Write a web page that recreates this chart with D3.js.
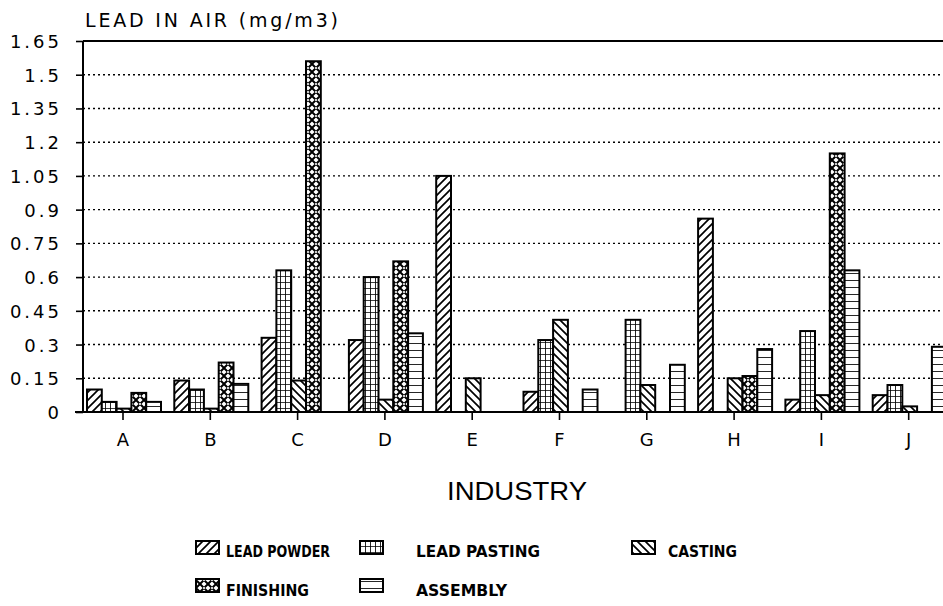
<!DOCTYPE html>
<html>
<head>
<meta charset="utf-8">
<script src="https://cdn.jsdelivr.net/npm/d3@7"></script>
<style>
  html, body { margin: 0; padding: 0; background: #fff; }
  svg { display: block; }
</style>
</head>
<body>
<svg id="chart" width="943" height="606"></svg>
<script>
// ---- data ----
const categories = ["A", "B", "C", "D", "E", "F", "G", "H", "I", "J"];
const seriesNames = ["LEAD POWDER", "LEAD PASTING", "CASTING", "FINISHING", "ASSEMBLY"];
const leadPowder  = [0.10, 0.14, 0.33, 0.32, 1.05, 0.09, 0,    0.86, 0.055, 0.075];
const leadPasting = [0.045, 0.10, 0.63, 0.60, 0,   0.32, 0.41, 0,    0.36,  0.12];
const casting     = [0.015, 0.015, 0.14, 0.055, 0.15, 0.41, 0.12, 0.15, 0.075, 0.025];
const finishing   = [0.085, 0.22, 1.56, 0.67, 0,   0,    0,    0.16, 1.15,  0];
const assembly    = [0.045, 0.125, 0,   0.35, 0,   0.10, 0.21, 0.28, 0.63,  0.29];
const yTicks = [0, 0.15, 0.3, 0.45, 0.6, 0.75, 0.9, 1.05, 1.2, 1.35, 1.5, 1.65];
const yTickLabels = ["0", "0.15", "0.3", "0.45", "0.6", "0.75", "0.9", "1.05", "1.2", "1.35", "1.5", "1.65"];
const yTitle = "LEAD IN AIR (mg/m3)";
const xTitle = "INDUSTRY";

const seriesValues = [leadPowder, leadPasting, casting, finishing, assembly];
const patternIds = ["pPowder", "pPasting", "pCasting", "pFinishing", "pAssembly"];

// ---- layout ----
const W = 943, H = 606;
const axisX = 83, plotRight = 943;
const yTop = 41, yBase = 412;
const step = 87.3, firstCenter = 123;

const svg = d3.select("#chart");
const defs = svg.append("defs");

function pat(id, w, h, draw) {
  const p = defs.append("pattern").attr("id", id)
    .attr("patternUnits", "userSpaceOnUse").attr("width", w).attr("height", h);
  p.append("rect").attr("width", w).attr("height", h).attr("fill", "#fff");
  draw(p);
}
pat("pPowder", 8, 8, p => p.append("path")
  .attr("d", "M-2,2 L2,-2 M0,8 L8,0 M6,10 L10,6")
  .attr("stroke", "#000").attr("stroke-width", 1.7));
pat("pCasting", 8, 8, p => p.append("path")
  .attr("d", "M-2,6 L2,10 M0,0 L8,8 M6,-2 L10,2")
  .attr("stroke", "#000").attr("stroke-width", 1.7));
pat("pPasting", 5, 6, p => p.append("path")
  .attr("d", "M0,0 L0,6 M0,0 L5,0")
  .attr("stroke", "#000").attr("stroke-width", 1.7));
pat("pFinishing", 8, 8, p => {
  p.append("path").attr("d", "M0,0 L8,8 M8,0 L0,8")
    .attr("stroke", "#000").attr("stroke-width", 2);
  p.append("circle").attr("cx", 4).attr("cy", 4).attr("r", 1.1).attr("fill", "#fff");
});
pat("pAssembly", 10, 7, p => p.append("path")
  .attr("d", "M0,0 L10,0")
  .attr("stroke", "#000").attr("stroke-width", 1.7));

// ---- scales ----
const x = d3.scaleBand()
  .domain(categories)
  .range([firstCenter - step / 2, firstCenter - step / 2 + step * categories.length])
  .padding(0);
const groupW = 74;
const xs = d3.scaleBand().domain(seriesNames).range([0, groupW]).padding(0);
const y = d3.scaleLinear().domain([0, 1.65]).range([yBase, yTop]);

const font = "'DejaVu Sans', sans-serif";

// ---- gridlines ----
svg.append("g").selectAll("line")
  .data(yTicks.filter(v => v > 0 && v < 1.65))
  .join("line")
  .attr("x1", axisX).attr("x2", plotRight)
  .attr("y1", d => y(d)).attr("y2", d => y(d))
  .attr("stroke", "#000").attr("stroke-width", 1.4)
  .attr("stroke-dasharray", "2,3");
// top border
svg.append("line").attr("x1", axisX).attr("x2", plotRight)
  .attr("y1", y(1.65)).attr("y2", y(1.65))
  .attr("stroke", "#000").attr("stroke-width", 1.8);

// ---- bars ----
const barData = [];
categories.forEach((c, i) => {
  seriesNames.forEach((s, j) => {
    const v = seriesValues[j][i];
    if (v > 0) barData.push({ c, s, j, v });
  });
});
const barsG = svg.append("g");
barsG.selectAll("rect")
  .data(barData)
  .join("rect")
  .attr("x", d => x(d.c) + x.bandwidth() / 2 - groupW / 2 + 1 + xs(d.s))
  .attr("width", xs.bandwidth())
  .attr("y", d => y(d.v))
  .attr("height", d => y(0) - y(d.v))
  .attr("fill", d => "url(#" + patternIds[d.j] + ")")
  .attr("stroke", "#000").attr("stroke-width", 2);

// ---- axes ----
const yAxis = d3.axisLeft(y).tickValues(yTicks)
  .tickFormat((d, i) => yTickLabels[i]).tickSize(7).tickPadding(14);
const gy = svg.append("g").attr("transform", `translate(${axisX},0)`).call(yAxis);
gy.select(".domain").attr("stroke", "#000").attr("stroke-width", 2)
  .attr("d", `M0,${yTop}V${yBase}`);
gy.selectAll(".tick line").attr("stroke-width", 1.6);
gy.selectAll(".tick text")
  .attr("font-family", font).attr("font-size", 18).attr("fill", "#000")
  .attr("letter-spacing", "3px").attr("dy", "0.36em");

const xAxis = d3.axisBottom(x).tickSize(8).tickPadding(13);
const gx = svg.append("g").attr("transform", `translate(0,${yBase})`).call(xAxis);
gx.select(".domain").attr("stroke", "#000").attr("stroke-width", 2)
  .attr("d", `M${axisX - 8},0H${plotRight}`);
gx.selectAll(".tick line").attr("stroke-width", 1.6);
gx.selectAll(".tick text")
  .attr("font-family", font).attr("font-size", 18)
  .attr("fill", "#000");

// ---- titles ----
svg.append("text").attr("x", 85).attr("y", 27)
  .attr("font-family", font).attr("font-size", 19)
  .attr("textLength", 253).attr("lengthAdjust", "spacing")
  .text(yTitle);
svg.append("text").attr("x", 447).attr("y", 500)
  .attr("font-family", "'Liberation Sans', sans-serif").attr("font-size", 25)
  .attr("textLength", 140).attr("lengthAdjust", "spacingAndGlyphs")
  .text(xTitle);

// ---- legend ----
const legendPos = [
  { sx: 196, sy: 541, tx: 226, ty: 557, tl: 104 },
  { sx: 360, sy: 541, tx: 416, ty: 557, tl: 124 },
  { sx: 632, sy: 541, tx: 668, ty: 557, tl: 69 },
  { sx: 196, sy: 579, tx: 226, ty: 596, tl: 83 },
  { sx: 360, sy: 579, tx: 416, ty: 596, tl: 91 }
];
const lg = svg.append("g");
seriesNames.forEach((s, j) => {
  const p = legendPos[j];
  lg.append("rect").attr("x", p.sx).attr("y", p.sy).attr("width", 23).attr("height", 13)
    .attr("fill", "url(#" + patternIds[j] + ")").attr("stroke", "#000").attr("stroke-width", 2);
  lg.append("text").attr("x", p.tx).attr("y", p.ty)
    .attr("font-family", font).attr("font-size", 16).attr("font-weight", "bold")
    .attr("textLength", p.tl).attr("lengthAdjust", "spacingAndGlyphs")
    .text(s);
});
</script>
</body>
</html>
